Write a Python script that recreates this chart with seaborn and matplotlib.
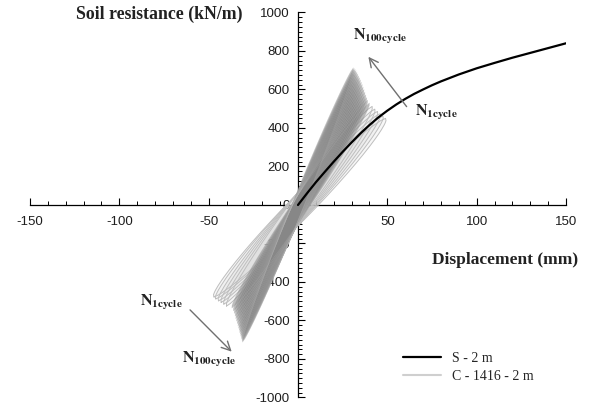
import numpy as np
import pandas as pd
import matplotlib
matplotlib.use("Agg")
import matplotlib.pyplot as plt
from matplotlib.ticker import MultipleLocator
import seaborn as sns

sns.set_style("white")
plt.rcParams["font.family"] = ["Liberation Sans", "DejaVu Sans"]
plt.rcParams["mathtext.fontset"] = "stix"

# Static backbone curve S - 2 m
static_disp = [0, 5, 10, 15, 20, 25, 30, 35, 40, 45, 50, 55, 60, 65, 70, 75, 80,
               90, 100, 110, 120, 130, 140, 150]
static_force = [0, 60, 118, 172, 225, 276, 325, 372, 415, 455, 490, 522, 551, 577, 600, 622, 642,
                678, 710, 738, 765, 790, 815, 840]

# Cyclic loops C - 1416 - 2 m: first cycles (distinct outlines)
first_pos_disp = [49, 47.5, 46, 44.5, 43, 41.5]
first_pos_force = [450, 462, 474, 486, 498, 512]
first_neg_disp = [-47, -46, -44.5, -43, -41.5, -40]
first_neg_force = [-478, -488, -498, -506, -515, -525]
first_half_width = [9, 8.5, 8, 7.5, 7, 6.5]

# Later cycles up to N = 100 (dense band)
late_pos_disp = [40, 39, 38.5, 38, 37.5, 37, 36.5, 36, 35.5, 35, 34.5, 34, 33.5, 33, 32.5, 32, 31.5, 31]
late_pos_force = [530, 545, 558, 572, 586, 600, 613, 626, 638, 650, 661, 671, 681, 690, 698, 704, 709, 713]
late_neg_disp = [-37, -36.2, -35.7, -35.2, -34.8, -34.4, -34, -33.6, -33.2, -32.9, -32.6, -32.3, -32,
                 -31.7, -31.5, -31.3, -31.1, -31]
late_neg_force = [-535, -550, -563, -577, -590, -603, -616, -628, -640, -651, -662, -672, -681, -689,
                  -696, -702, -707, -712]
late_half_width = [5.5, 5.3, 5.1, 4.9, 4.7, 4.5, 4.4, 4.3, 4.2, 4.1, 4, 3.9, 3.8, 3.7, 3.6, 3.5, 3.5, 3.5]

x_ticks = [-150, -100, -50, 0, 50, 100, 150]
y_ticks = [-1000, -800, -600, -400, -200, 0, 200, 400, 600, 800, 1000]


def loop_table(pos_d, pos_f, neg_d, neg_f, half_w):
    """Closed loops between the negative and positive reversal points."""
    s = np.linspace(0, 1, 80)
    rows = []
    for k, (pd_, pf, nd, nf, h) in enumerate(zip(pos_d, pos_f, neg_d, neg_f, half_w)):
        bx = nd + s * (pd_ - nd)
        by = nf + s * (pf - nf)
        bulge = h * (4 * s * (1 - s)) ** 0.6
        xs = np.concatenate([bx + bulge, (bx - bulge)[::-1]])
        ys = np.concatenate([by, by[::-1]])
        rows.append(pd.DataFrame({"disp": xs, "force": ys, "cycle": k}))
    return pd.concat(rows, ignore_index=True)


first_loops = loop_table(first_pos_disp, first_pos_force, first_neg_disp, first_neg_force, first_half_width)
late_loops = loop_table(late_pos_disp, late_pos_force, late_neg_disp, late_neg_force, late_half_width)
static_df = pd.DataFrame({"disp": static_disp, "force": static_force})

fig = plt.figure(figsize=(5.9, 4.12), dpi=100)
ax = fig.add_axes([0.0508, 0.0352, 0.9085, 0.9345])

# first cycles (light outlines, underneath)
for _, g in first_loops.groupby("cycle"):
    ax.fill(g["disp"], g["force"], color="#d6d6d6", alpha=0.18, lw=0, zorder=3)
sns.lineplot(data=first_loops, x="disp", y="force", units="cycle", estimator=None, sort=False,
             color="#bebebe", lw=0.7, ax=ax, zorder=3, legend=False)
# dense later cycles
for _, g in late_loops.groupby("cycle"):
    ax.fill(g["disp"], g["force"], color="#878787", alpha=0.55, lw=0, zorder=4)
sns.lineplot(data=late_loops, x="disp", y="force", units="cycle", estimator=None, sort=False,
             color="#b4b4b4", lw=0.4, alpha=0.35, ax=ax, zorder=4, legend=False)

# static curve
sns.lineplot(data=static_df, x="disp", y="force", color="black", lw=1.6, ax=ax, zorder=5,
             label="S - 2 m")
ax.plot([], [], color="#cfcfcf", lw=1.5, label="C - 1416 - 2 m")

ax.set_xlim(-150, 150)
ax.set_ylim(-1000, 1000)
for side in ("top", "right"):
    ax.spines[side].set_visible(False)
ax.spines["left"].set_position(("data", 0))
ax.spines["bottom"].set_position(("data", 0))
for side in ("left", "bottom"):
    ax.spines[side].set_linewidth(0.9)
    ax.spines[side].set_color("black")

ax.set_xticks(x_ticks)
ax.set_xticklabels([str(v) for v in x_ticks])
ax.set_yticks(y_ticks)
ax.set_yticklabels([str(v) for v in y_ticks])
ax.xaxis.set_minor_locator(MultipleLocator(10))
ax.yaxis.set_minor_locator(MultipleLocator(25))
ax.tick_params(axis="both", which="both", bottom=True, left=True, top=False, right=False)
ax.tick_params(axis="both", which="major", direction="in", length=5, width=0.8, color="black",
               labelsize=9.5, labelcolor="#1e1e1e")
ax.tick_params(axis="both", which="minor", direction="in", length=3, width=0.7, color="black")
ax.tick_params(axis="x", which="major", pad=8)
ax.tick_params(axis="y", which="major", pad=6)
ax.set_xlabel("")
ax.set_ylabel("")

serif = ["Liberation Serif", "DejaVu Serif"]
ax.text(-30.8, 992, "Soil resistance (kN/m)", ha="right", va="center", fontsize=12.8,
        fontweight="bold", family=serif, color="#222222", clip_on=False)
ax.text(156.7, -286, "Displacement (mm)", ha="right", va="center", fontsize=12.5,
        fontweight="bold", family=serif, color="#222222", clip_on=False)

arrow = dict(arrowstyle="->", color="#707070", lw=1.0, mutation_scale=16, shrinkA=0, shrinkB=0)
ax.annotate("", xy=(39.4, 770), xytext=(60.8, 511), arrowprops=arrow, zorder=6)
ax.annotate("", xy=(-37.1, -762), xytext=(-60.4, -545), arrowprops=arrow, zorder=6)

lab_100 = r"$\mathbf{N}_{\mathbf{100cycle}}$"
lab_1 = r"$\mathbf{N}_{\mathbf{1cycle}}$"
ax.text(30.8, 873, lab_100, ha="left", va="center", fontsize=11.5, color="#222222", zorder=6)
ax.text(65.5, 478, lab_1, ha="left", va="center", fontsize=11.5, color="#222222", zorder=6)
ax.text(-88.4, -509, lab_1, ha="left", va="center", fontsize=11.5, color="#222222", zorder=6)
ax.text(-65.0, -805, lab_100, ha="left", va="center", fontsize=11.5, color="#222222", zorder=6)

ax.legend(loc="upper left", bbox_to_anchor=(0.696, 0.118), frameon=False, borderpad=0,
          borderaxespad=0, handlelength=2.7, handletextpad=0.8, labelspacing=0.35,
          prop={"family": serif, "size": 10})

fig.savefig("out.png", dpi=100)
